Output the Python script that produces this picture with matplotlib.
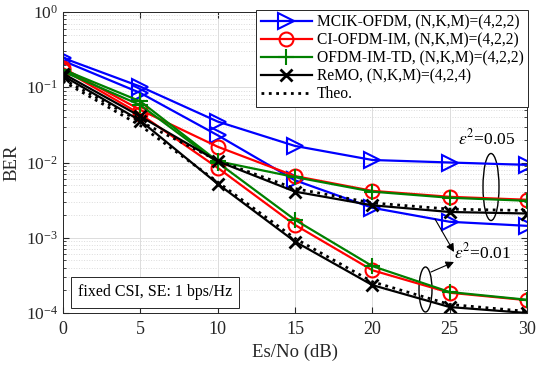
import numpy as np
import matplotlib
matplotlib.use("Agg")
import matplotlib.pyplot as plt
from matplotlib.patches import Ellipse

plt.rcParams['font.family'] = ['Liberation Serif', 'DejaVu Serif']
plt.rcParams['mathtext.fontset'] = 'stix'

snr = [0, 5, 10, 15, 20, 25, 30]

mcik_005 = [0.245, 0.102, 0.035, 0.0166, 0.0108, 0.0100, 0.0093]
mcik_001 = [0.225, 0.084, 0.023, 0.0058, 0.0025, 0.00163, 0.00144]
ci_005 = [0.180, 0.050, 0.0162, 0.0066, 0.0042, 0.0035, 0.0032]
ci_001 = [0.172, 0.044, 0.0085, 0.00148, 0.00037, 0.000186, 0.000148]
td_005 = [0.172, 0.065, 0.0104, 0.0064, 0.0041, 0.0034, 0.0031]
td_001 = [0.162, 0.058, 0.0100, 0.00173, 0.00042, 0.00019, 0.00015]
remo_005 = [0.152, 0.041, 0.0104, 0.0041, 0.0027, 0.0022, 0.0021]
remo_001 = [0.142, 0.036, 0.0052, 0.00089, 0.000235, 0.00012, 0.0001]
theo_005 = [0.128, 0.035, 0.0106, 0.0045, 0.0029, 0.0024, 0.0023]
theo_001 = [0.120, 0.031, 0.0055, 0.00098, 0.00026, 0.00013, 0.000105]

labels = ['MCIK-OFDM, (N,K,M)=(4,2,2)', 'CI-OFDM-IM, (N,K,M)=(4,2,2)',
          'OFDM-IM-TD, (N,K,M)=(4,2,2)', 'ReMO, (N,K,M)=(4,2,4)', 'Theo.']

W, H = 541, 366
fig = plt.figure(figsize=(W/100, H/100), dpi=100)
ax = fig.add_axes([63/W, 1-313/H, (527-63)/W, (313-12)/H])

lw = 1.6
styles = [
    (mcik_005, mcik_001, dict(color='#0000ff', marker='>', ms=11, mfc='none', mew=1.5)),
    (ci_005, ci_001, dict(color='#ff0000', marker='o', ms=10, mfc='none', mew=1.5)),
    (td_005, td_001, dict(color='#008000', marker='+', ms=11, mew=1.5)),
    (remo_005, remo_001, dict(color='black', marker='x', ms=9, mew=2.0)),
]
handles = []
for a, b, st in styles:
    h, = ax.semilogy(snr, a, lw=lw, **st)
    ax.semilogy(snr, b, lw=lw, **st)
    handles.append(h)
h, = ax.semilogy(snr, theo_005, color='black', ls=':', lw=2.0)
ax.semilogy(snr, theo_001, color='black', ls=':', lw=2.0)
handles.append(h)

ax.set_xlim(0, 30)
ax.set_ylim(1e-4, 1)
ax.set_xticks([0, 5, 10, 15, 20, 25, 30])
ax.set_yticks([1e-4, 1e-3, 1e-2, 1e-1, 1])
ax.tick_params(which='both', direction='in', top=True, right=True,
               colors='#262626', labelcolor='#262626')
ax.tick_params(axis='x', labelsize=13, pad=6)
ax.tick_params(axis='y', labelsize=12.5)
ax.tick_params(which='major', length=4)
ax.tick_params(which='minor', length=2)
for s in ax.spines.values():
    s.set_color('#262626')
    s.set_linewidth(0.7)
ax.grid(True, which='major', color='#dcdcdc', lw=0.7)
ax.grid(True, which='minor', axis='y', color='#dcdcdc', lw=0.7, ls=':')
ax.set_axisbelow(True)

ax.set_xlabel('Es/No (dB)', fontsize=13.5, color='#262626', labelpad=4)
ax.set_ylabel('BER', fontsize=13.5, color='#262626', labelpad=4)

leg = fig.legend(handles, labels, loc='upper right',
                 bbox_to_anchor=(528/W, 1-10/H), bbox_transform=fig.transFigure,
                 fontsize=11.2, frameon=True, fancybox=False, framealpha=1,
                 edgecolor='#262626', borderpad=0.3, labelspacing=0.12,
                 handlelength=3.3, handletextpad=0.3, borderaxespad=0)
leg.get_frame().set_linewidth(0.7)

# annotations
def fx(px):
    return (px-63)/464
def fy(py):
    return 1-(py-12)/301

ax.add_patch(Ellipse((fx(491), fy(187)), 16/464, 67/301,
                     transform=ax.transAxes, fill=False, ec='black', lw=1.0))
ax.add_patch(Ellipse((fx(425.5), fy(289.5)), 13/464, 45/301,
                     transform=ax.transAxes, fill=False, ec='black', lw=1.0))

ax.text(fx(487), fy(138), r'$\epsilon^2$=0.05', transform=ax.transAxes,
        ha='center', va='center', fontsize=12.5)
ax.text(fx(482), fy(252), r'$\epsilon^2$=0.01', transform=ax.transAxes,
        ha='center', va='center', fontsize=12.5)
ax.annotate('', xy=(fx(454), fy(252)), xytext=(fx(435), fy(219)),
            xycoords='axes fraction', textcoords='axes fraction',
            arrowprops=dict(arrowstyle='-|>', color='black', lw=0.8,
                            mutation_scale=12, shrinkA=0, shrinkB=0))
ax.annotate('', xy=(fx(454), fy(262)), xytext=(fx(431), fy(272)),
            xycoords='axes fraction', textcoords='axes fraction',
            arrowprops=dict(arrowstyle='-|>', color='black', lw=0.8,
                            mutation_scale=12, shrinkA=0, shrinkB=0))

ax.text(fx(155), fy(292.5), 'fixed CSI, SE: 1 bps/Hz', transform=ax.transAxes,
        ha='center', va='center', fontsize=11.5,
        bbox=dict(boxstyle='square,pad=0.45', fc='white', ec='#262626', lw=0.7))

fig.savefig('out.png', dpi=100)
